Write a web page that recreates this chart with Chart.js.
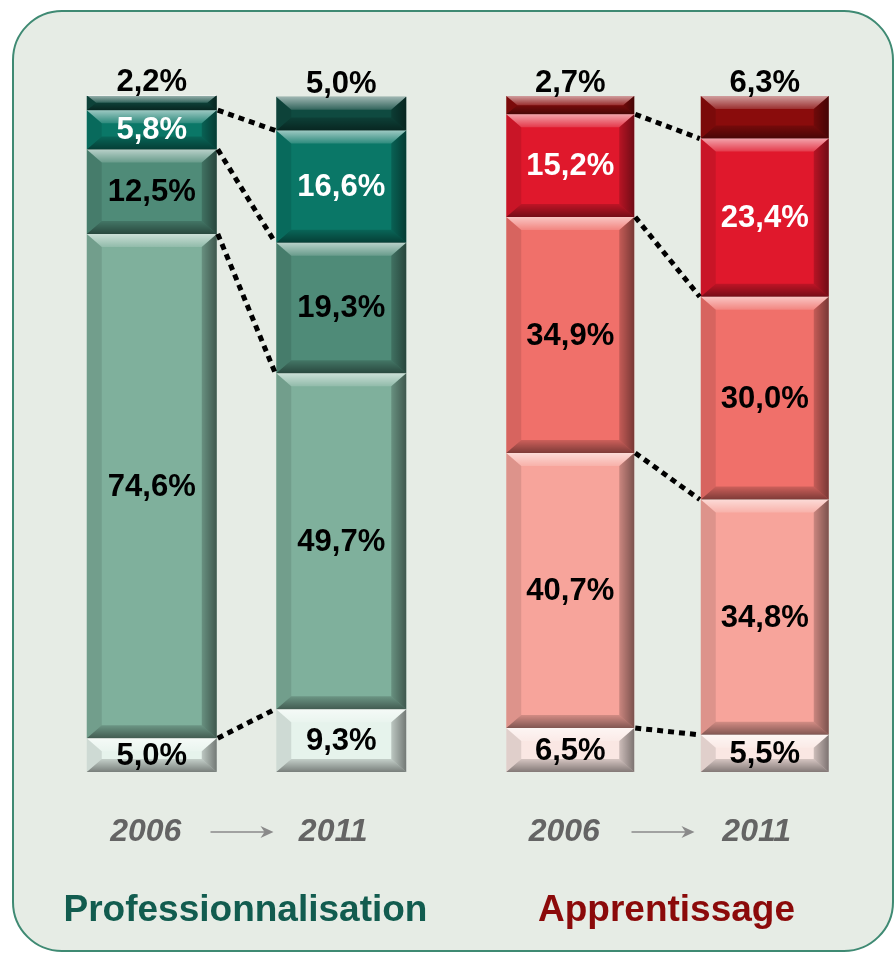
<!DOCTYPE html>
<html>
<head>
<meta charset="utf-8">
<script src="https://cdn.jsdelivr.net/npm/chart.js@4.4.1/dist/chart.umd.min.js"></script>
<style>
body { margin: 0; background: #fff; width: 895px; height: 957px; position: relative; overflow: hidden; }
#panel { position: absolute; left: 12px; top: 10px; width: 882px; height: 942px; box-sizing: border-box;
  border: 2px solid #3f8a73; border-radius: 50px; background: #e6ece5; }
canvas { position: absolute; top: 0; }
#proChart { left: 0; }
#appChart { left: 447px; }
</style>
</head>
<body>
<div id="panel"></div>
<canvas id="proChart" width="447" height="957"></canvas>
<canvas id="appChart" width="448" height="957"></canvas>
<script>
'use strict';

const years = ['2006', '2011'];

// Professionnalisation, bottom segment first
const proLevel1 = [5.0, 9.3];
const proLevel2 = [74.6, 49.7];
const proLevel3 = [12.5, 19.3];
const proLevel4 = [5.8, 16.6];
const proLevel5 = [2.2, 5.0];

// Apprentissage, bottom segment first
const appLevel1 = [6.5, 5.5];
const appLevel2 = [40.7, 34.8];
const appLevel3 = [34.9, 30.0];
const appLevel4 = [15.2, 23.4];
const appLevel5 = [2.7, 6.3];

const proColors = ['#e6f3ec', '#7fb09c', '#4f8b78', '#0a7767', '#0f4a40'];
const appColors = ['#fae7e3', '#f7a49b', '#f0706a', '#e0182c', '#8a0c0c'];

const labelFont = 'bold 31px "Liberation Sans", Arial, sans-serif';

function fmt(v) {
    return v.toFixed(1).replace('.', ',') + '%';
}

function bevel(ctx, l, t, r, b) {
    let h = b - t;
    let s = Math.min(13, h / 2);
    let sx = Math.min(15, h / 2 + 2);
    let g = ctx.createLinearGradient(0, t, 0, t + s);
    g.addColorStop(0, 'rgba(255,255,255,0.6)');
    g.addColorStop(1, 'rgba(255,255,255,0.15)');
    ctx.fillStyle = g;
    ctx.beginPath();
    ctx.moveTo(l, t); ctx.lineTo(r, t); ctx.lineTo(r - sx, t + s); ctx.lineTo(l + sx, t + s);
    ctx.closePath(); ctx.fill();

    g = ctx.createLinearGradient(0, b - s, 0, b);
    g.addColorStop(0, 'rgba(0,0,0,0.15)');
    g.addColorStop(1, 'rgba(0,0,0,0.48)');
    ctx.fillStyle = g;
    ctx.beginPath();
    ctx.moveTo(l, b); ctx.lineTo(r, b); ctx.lineTo(r - sx, b - s); ctx.lineTo(l + sx, b - s);
    ctx.closePath(); ctx.fill();

    ctx.fillStyle = 'rgba(0,0,0,0.10)';
    ctx.beginPath();
    ctx.moveTo(l, t); ctx.lineTo(l + sx, t + s); ctx.lineTo(l + sx, b - s); ctx.lineTo(l, b);
    ctx.closePath(); ctx.fill();

    g = ctx.createLinearGradient(r - sx, 0, r, 0);
    g.addColorStop(0, 'rgba(0,0,0,0.18)');
    g.addColorStop(1, 'rgba(0,0,0,0.5)');
    ctx.fillStyle = g;
    ctx.beginPath();
    ctx.moveTo(r, t); ctx.lineTo(r - sx, t + s); ctx.lineTo(r - sx, b - s); ctx.lineTo(r, b);
    ctx.closePath(); ctx.fill();
}

const decorPlugin = {
    id: 'decor',
    afterDatasetsDraw(chart, args, opts) {
        const ctx = chart.ctx;
        const n = chart.data.datasets.length;
        ctx.save();

        // bevels
        for (let i = 0; i < n; i++) {
            chart.getDatasetMeta(i).data.forEach(function(el) {
                bevel(ctx, el.x - el.width / 2, el.y, el.x + el.width / 2, el.base);
            });
        }

        // dotted connectors between segment boundaries
        ctx.strokeStyle = '#000';
        ctx.lineWidth = 5;
        ctx.setLineDash([6, 5]);
        for (let i = 0; i < n - 1; i++) {
            let a = chart.getDatasetMeta(i).data[0];
            let b = chart.getDatasetMeta(i).data[1];
            ctx.beginPath();
            ctx.moveTo(a.x + a.width / 2 + 1, a.y);
            ctx.lineTo(b.x - b.width / 2 - 1, b.y);
            ctx.stroke();
        }
        ctx.setLineDash([]);

        // value labels
        ctx.font = labelFont;
        ctx.textAlign = 'center';
        for (let i = 0; i < n; i++) {
            let ds = chart.data.datasets[i];
            chart.getDatasetMeta(i).data.forEach(function(el, j) {
                let txt = fmt(ds.data[j]);
                if (i === n - 1) {
                    ctx.fillStyle = '#000';
                    ctx.textBaseline = 'alphabetic';
                    ctx.fillText(txt, el.x, el.y - 4);
                } else {
                    ctx.fillStyle = i === n - 2 ? '#fff' : '#000';
                    ctx.textBaseline = 'middle';
                    ctx.fillText(txt, el.x, (el.y + el.base) / 2 + 1);
                }
            });
        }

        // years and arrow
        const xs = chart.scales.x;
        let x0 = xs.getPixelForValue(0);
        let x1 = xs.getPixelForValue(1);
        ctx.font = 'italic bold 32px "Liberation Sans", Arial, sans-serif';
        ctx.fillStyle = '#646464';
        ctx.textBaseline = 'middle';
        ctx.fillText(chart.data.labels[0], x0 - 6, 832);
        ctx.fillText(chart.data.labels[1], x1 - 8, 832);

        let mid = (x0 + x1) / 2 - 4;
        let ax0 = mid - 32, ax1 = mid + 31;
        ctx.strokeStyle = '#8a8a8a';
        ctx.fillStyle = '#8a8a8a';
        ctx.lineWidth = 1.6;
        ctx.beginPath();
        ctx.moveTo(ax0, 832); ctx.lineTo(ax1 - 4, 832);
        ctx.stroke();
        ctx.beginPath();
        ctx.moveTo(ax1, 832); ctx.lineTo(ax1 - 13, 826); ctx.lineTo(ax1 - 9, 832); ctx.lineTo(ax1 - 13, 838);
        ctx.closePath(); ctx.fill();

        // group title
        ctx.font = 'bold 37px "Liberation Sans", Arial, sans-serif';
        ctx.fillStyle = opts.titleColor;
        ctx.fillText(opts.title, (chart.chartArea.left + chart.chartArea.right) / 2 - 1, 911);

        ctx.restore();
    }
};

function makeChart(id, series, colors, barPct, pad, title, titleColor) {
    return new Chart(document.getElementById(id), {
        type: 'bar',
        data: {
            labels: years,
            datasets: series.map(function(d, i) {
                return {
                    data: d,
                    backgroundColor: colors[i],
                    borderWidth: 0,
                    barPercentage: barPct,
                    categoryPercentage: 1
                };
            })
        },
        options: {
            responsive: false,
            animation: false,
            layout: { padding: pad },
            plugins: {
                legend: { display: false },
                tooltip: { enabled: false },
                decor: { title: title, titleColor: titleColor }
            },
            scales: {
                x: { stacked: true, display: false },
                y: { stacked: true, display: false, min: 0, max: 100 }
            }
        },
        plugins: [decorPlugin]
    });
}

makeChart('proChart',
    [proLevel1, proLevel2, proLevel3, proLevel4, proLevel5],
    proColors, 0.686,
    { left: 57, right: 11, top: 96, bottom: 185 },
    'Professionnalisation', '#125c4f');

makeChart('appChart',
    [appLevel1, appLevel2, appLevel3, appLevel4, appLevel5],
    appColors, 0.658,
    { left: 26, right: 33, top: 96, bottom: 185 },
    'Apprentissage', '#8b0a0a');
</script>
</body>
</html>
